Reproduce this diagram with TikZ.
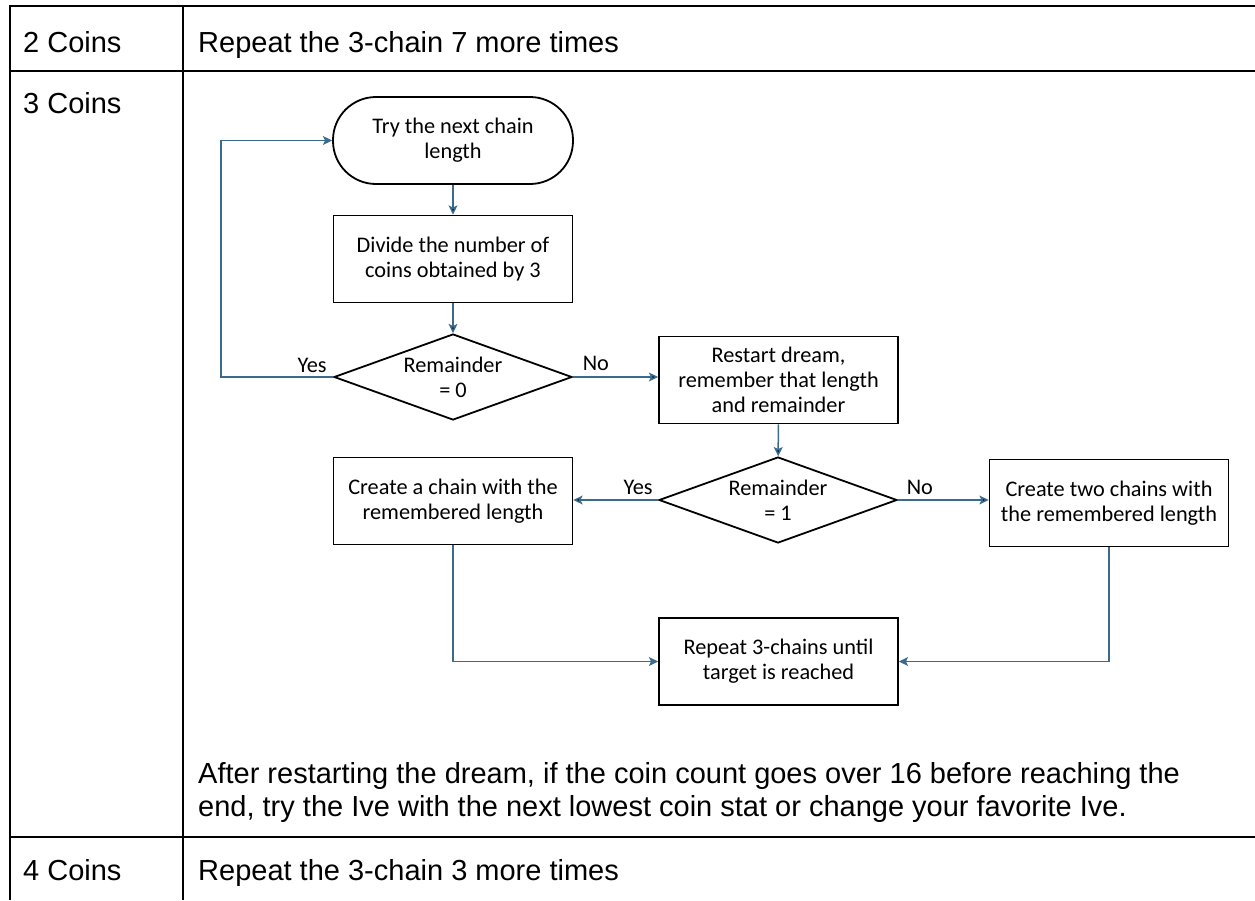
\documentclass[tikz,border=0pt]{standalone}
\usepackage{fontspec}
\setmainfont{Liberation Sans}
\newfontfamily\flowfont{Carlito}
\usepackage{tikz}
\usetikzlibrary{calc,shapes,positioning}
\usetikzlibrary{arrows.meta}
\tikzset{>={Stealth[width=3.1mm,length=3.2mm,inset=0.7mm]}}
\definecolor{flowblue}{RGB}{58,107,141}

\begin{document}
\begin{tikzpicture}[x=1pt,y=1pt]
  \tikzstyle{rule} = [line width=2pt, draw=black]
  \tikzstyle{cellnode} = [anchor=base west, inner sep=0pt, font=\fontsize{29}{33}\selectfont]
  \tikzstyle{tnode} = [line width=1.8pt, draw=black, rectangle, rounded corners=43pt, minimum width=240pt, minimum height=87pt, align=center, font=\flowfont\fontsize{22.3}{25}\selectfont]
  \tikzstyle{bnode} = [line width=1.8pt, draw=black, rectangle, minimum width=239pt, minimum height=87pt, inner sep=4pt, align=center, font=\flowfont\fontsize{22.3}{25}\selectfont]
  \tikzstyle{dnode} = [line width=1.8pt, draw=black, diamond, aspect=2.77, minimum width=238pt, minimum height=86pt, inner sep=0pt, align=center, font=\flowfont\fontsize{22.3}{25}\selectfont]
  \tikzstyle{lnode} = [inner sep=0pt, font=\flowfont\fontsize{22.3}{25}\selectfont]
  \tikzstyle{flow} = [draw=flowblue, line width=1.5pt]

  \path[use as bounding box, fill=white] (0,0) rectangle (1255,-900);

  % table
  \draw[rule] (10,-900) -- (10,-6) -- (1255,-6);
  \draw[rule] (183,-6) -- (183,-900);
  \draw[rule] (10,-71) -- (1255,-71);
  \draw[rule] (10,-837) -- (1255,-837);

  \node[cellnode] (coins2) at (23,-52) {2 Coins};
  \node[cellnode] (step2) at (198,-52) {Repeat the 3-chain 7 more times};
  \node[cellnode] (coins3) at (23,-113) {3 Coins};
  \node[cellnode, anchor=west, align=left] (note3) at (198,-792) {After restarting the dream, if the coin count goes over 16 before reaching the\\end, try the Ive with the next lowest coin stat or change your favorite Ive.};
  \node[cellnode] (coins4) at (23,-880) {4 Coins};
  \node[cellnode] (step4) at (198,-880) {Repeat the 3-chain 3 more times};

  % flowchart
  \node[tnode] (trylen) at (453,-140.5) {Try the next chain\\length};
  \node[bnode] (divide) at (453,-259) {Divide the number of\\coins obtained by 3};
  \node[dnode] (rem0) at (453,-377) {Remainder\\= 0};
  \node[bnode] (restart) at (778.5,-380) {Restart dream,\\remember that length\\and remainder};
  \node[dnode] (rem1) at (778,-500) {Remainder\\= 1};
  \node[bnode] (onechain) at (453,-501) {Create a chain with the\\remembered length};
  \node[bnode] (twochain) at (1109,-503) {Create two chains with\\the remembered length};
  \node[bnode] (repeat) at (778.5,-661.5) {Repeat 3-chains until\\target is reached};

  \node[lnode] (yes0) at ($(rem0.west) + (-21,12)$) {Yes};
  \node[lnode] (no0) at ($(rem0.east) + (23,14)$) {No};
  \node[lnode] (yes1) at ($(rem1.west) + (-20,13)$) {Yes};
  \node[lnode] (no1) at ($(rem1.east) + (22,13)$) {No};

  \coordinate (loop) at (221,-377);
  \path[flow]
  (trylen) edge[->] node {} (divide)
  (divide) edge[->] node {} (rem0)
  (rem0.east) edge[->] node {} (rem0.east -| restart.west)
  (restart) edge[->] node {} (rem1)
  (rem1.west) edge[->] node {} (rem1.west -| onechain.east)
  (rem1.east) edge[->] node {} (rem1.east -| twochain.west)
  ;
  \draw[flow, ->] (rem0.west) -- (loop) |- (trylen.west);
  \draw[flow, ->] (onechain.south) |- (repeat.west);
  \draw[flow, ->] (twochain.south) |- (repeat.east);
\end{tikzpicture}
\end{document}
